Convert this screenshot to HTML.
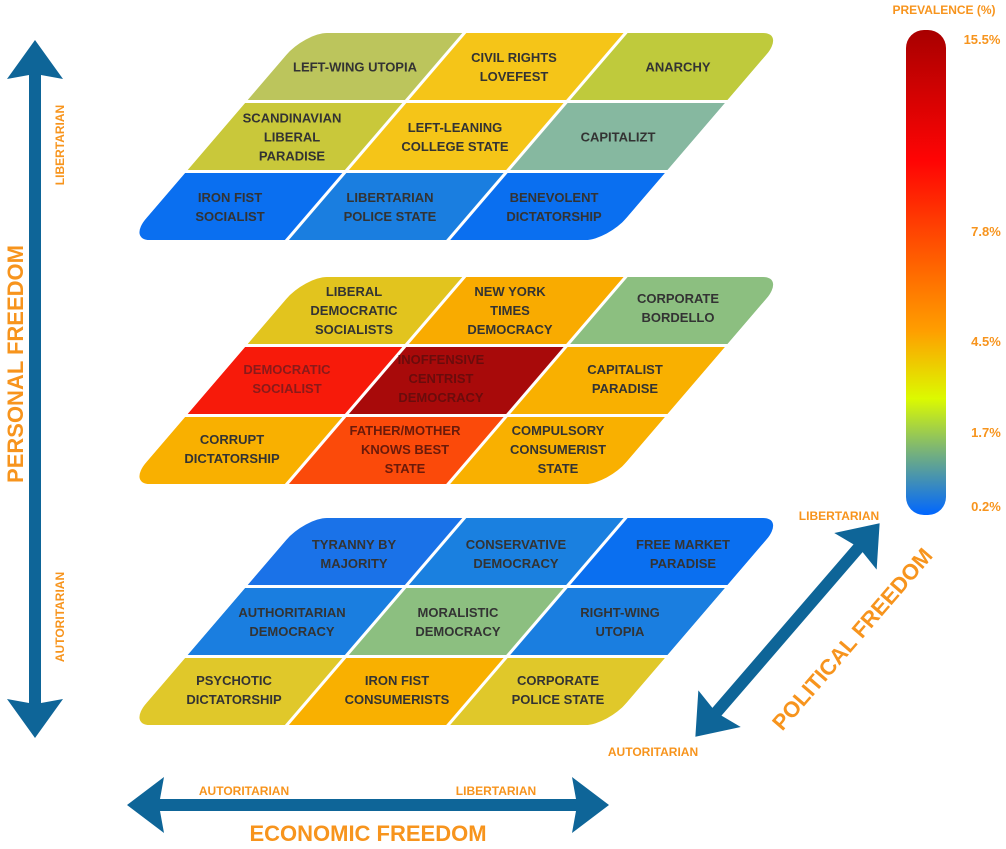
<!DOCTYPE html>
<html><head><meta charset="utf-8"><style>
html,body{margin:0;padding:0;background:#fff;}
svg{display:block;font-family:"Liberation Sans",sans-serif;font-weight:bold;}
.t{font-size:13px;fill:#333;text-anchor:middle;}
.o{fill:#f7941d;text-anchor:middle;}
</style></head><body>
<svg width="1006" height="849" viewBox="0 0 1006 849" xmlns="http://www.w3.org/2000/svg">
<defs>
<linearGradient id="cb" x1="0" y1="0" x2="0" y2="1">
<stop offset="0" stop-color="#a80000"/>
<stop offset="0.27" stop-color="#ff0404"/>
<stop offset="0.5" stop-color="#ff6a00"/>
<stop offset="0.62" stop-color="#ff9e00"/>
<stop offset="0.76" stop-color="#dcfa00"/>
<stop offset="0.86" stop-color="#80b870"/>
<stop offset="1" stop-color="#0066ff"/>
</linearGradient>
<clipPath id="cl"><rect x="0" y="0" width="480" height="207" rx="22"/></clipPath>
</defs>

<!-- Layer 1 -->
<g transform="translate(305,33) skewX(-40.6)" clip-path="url(#cl)">
<rect x="0" y="0" width="157.3" height="67" fill="#bcc55c"/>
<rect x="161.3" y="0" width="157.3" height="67" fill="#f5c518"/>
<rect x="322.6" y="0" width="157.4" height="67" fill="#bfca3c"/>
<rect x="0" y="70" width="157.3" height="67" fill="#c9c83a"/>
<rect x="161.3" y="70" width="157.3" height="67" fill="#f5c518"/>
<rect x="322.6" y="70" width="157.4" height="67" fill="#86b8a0"/>
<rect x="0" y="140" width="157.3" height="67" fill="#0a6ff0"/>
<rect x="161.3" y="140" width="157.3" height="67" fill="#1a7ee0"/>
<rect x="322.6" y="140" width="157.4" height="67" fill="#0a6ff0"/>
</g>
<text class="t" x="355" y="71.5">LEFT-WING UTOPIA</text>
<text class="t" x="514" y="62">CIVIL RIGHTS</text><text class="t" x="514" y="81">LOVEFEST</text>
<text class="t" x="678" y="71.5">ANARCHY</text>
<text class="t" x="292" y="122.5">SCANDINAVIAN</text><text class="t" x="292" y="141.5">LIBERAL</text><text class="t" x="292" y="160.5">PARADISE</text>
<text class="t" x="455" y="132">LEFT-LEANING</text><text class="t" x="455" y="151">COLLEGE STATE</text>
<text class="t" x="618" y="141.5">CAPITALIZT</text>
<text class="t" x="230" y="202">IRON FIST</text><text class="t" x="230" y="221">SOCIALIST</text>
<text class="t" x="390" y="202">LIBERTARIAN</text><text class="t" x="390" y="221">POLICE STATE</text>
<text class="t" x="554" y="202">BENEVOLENT</text><text class="t" x="554" y="221">DICTATORSHIP</text>

<!-- Layer 2 -->
<g transform="translate(305,277) skewX(-40.6)" clip-path="url(#cl)">
<rect x="0" y="0" width="157.3" height="67" fill="#e2c41e"/>
<rect x="161.3" y="0" width="157.3" height="67" fill="#f9ab00"/>
<rect x="322.6" y="0" width="157.4" height="67" fill="#8cbf80"/>
<rect x="0" y="70" width="157.3" height="67" fill="#f71a0a"/>
<rect x="161.3" y="70" width="157.3" height="67" fill="#a80a0a"/>
<rect x="322.6" y="70" width="157.4" height="67" fill="#f9b000"/>
<rect x="0" y="140" width="157.3" height="67" fill="#f9b000"/>
<rect x="161.3" y="140" width="157.3" height="67" fill="#fb4a0a"/>
<rect x="322.6" y="140" width="157.4" height="67" fill="#f9b000"/>
</g>
<text class="t" x="354" y="296">LIBERAL</text><text class="t" x="354" y="315">DEMOCRATIC</text><text class="t" x="354" y="334">SOCIALISTS</text>
<text class="t" x="510" y="296">NEW YORK</text><text class="t" x="510" y="315">TIMES</text><text class="t" x="510" y="334">DEMOCRACY</text>
<text class="t" x="678" y="303">CORPORATE</text><text class="t" x="678" y="322">BORDELLO</text>
<text class="t" x="287" y="374" style="fill:#8a1a1a">DEMOCRATIC</text><text class="t" x="287" y="393" style="fill:#8a1a1a">SOCIALIST</text>
<text class="t" x="441" y="364" style="fill:#6a0c0c">INOFFENSIVE</text><text class="t" x="441" y="383" style="fill:#6a0c0c">CENTRIST</text><text class="t" x="441" y="402" style="fill:#6a0c0c">DEMOCRACY</text>
<text class="t" x="625" y="374">CAPITALIST</text><text class="t" x="625" y="393">PARADISE</text>
<text class="t" x="232" y="444">CORRUPT</text><text class="t" x="232" y="463">DICTATORSHIP</text>
<text class="t" x="405" y="435" style="fill:#6a1a0a">FATHER/MOTHER</text><text class="t" x="405" y="454" style="fill:#6a1a0a">KNOWS BEST</text><text class="t" x="405" y="473" style="fill:#6a1a0a">STATE</text>
<text class="t" x="558" y="435">COMPULSORY</text><text class="t" x="558" y="454">CONSUMERIST</text><text class="t" x="558" y="473">STATE</text>

<!-- Layer 3 -->
<g transform="translate(305,518) skewX(-40.6)" clip-path="url(#cl)">
<rect x="0" y="0" width="157.3" height="67" fill="#1a72e8"/>
<rect x="161.3" y="0" width="157.3" height="67" fill="#1a80e0"/>
<rect x="322.6" y="0" width="157.4" height="67" fill="#0a6ff0"/>
<rect x="0" y="70" width="157.3" height="67" fill="#1a7ee0"/>
<rect x="161.3" y="70" width="157.3" height="67" fill="#8cbf80"/>
<rect x="322.6" y="70" width="157.4" height="67" fill="#1a7ee0"/>
<rect x="0" y="140" width="157.3" height="67" fill="#e0c82a"/>
<rect x="161.3" y="140" width="157.3" height="67" fill="#f9b000"/>
<rect x="322.6" y="140" width="157.4" height="67" fill="#e0c82a"/>
</g>
<text class="t" x="354" y="549">TYRANNY BY</text><text class="t" x="354" y="568">MAJORITY</text>
<text class="t" x="516" y="549">CONSERVATIVE</text><text class="t" x="516" y="568">DEMOCRACY</text>
<text class="t" x="683" y="549">FREE MARKET</text><text class="t" x="683" y="568">PARADISE</text>
<text class="t" x="292" y="617">AUTHORITARIAN</text><text class="t" x="292" y="636">DEMOCRACY</text>
<text class="t" x="458" y="617">MORALISTIC</text><text class="t" x="458" y="636">DEMOCRACY</text>
<text class="t" x="620" y="617">RIGHT-WING</text><text class="t" x="620" y="636">UTOPIA</text>
<text class="t" x="234" y="685">PSYCHOTIC</text><text class="t" x="234" y="704">DICTATORSHIP</text>
<text class="t" x="397" y="685">IRON FIST</text><text class="t" x="397" y="704">CONSUMERISTS</text>
<text class="t" x="558" y="685">CORPORATE</text><text class="t" x="558" y="704">POLICE STATE</text>

<!-- Arrows -->
<g fill="#0e6598">
<g transform="translate(35,389) rotate(90)">
<polygon points="-349,0 -310,-28 -314,-6 314,-6 310,-28 349,0 310,28 314,6 -314,6 -310,28"/>
</g>
<g transform="translate(368,805)">
<polygon points="-241,0 -204,-28 -208,-6 208,-6 204,-28 241,0 204,28 208,6 -208,6 -204,28"/>
</g>
<g transform="translate(787.5,630) rotate(-49.2)">
<polygon points="-141,0 -104,-28 -108,-6 108,-6 104,-28 141,0 104,28 108,6 -108,6 -104,28"/>
</g>
</g>

<!-- Axis labels -->
<text class="o" transform="translate(23,364) rotate(-90)" font-size="22">PERSONAL FREEDOM</text>
<text class="o" transform="translate(64,145) rotate(-90)" font-size="12">LIBERTARIAN</text>
<text class="o" transform="translate(64,617) rotate(-90)" font-size="12">AUTORITARIAN</text>
<text class="o" x="368" y="841" font-size="22">ECONOMIC FREEDOM</text>
<text class="o" x="244" y="795" font-size="12">AUTORITARIAN</text>
<text class="o" x="496" y="795" font-size="12">LIBERTARIAN</text>
<text class="o" transform="translate(858,644) rotate(-49.2)" font-size="22">POLITICAL FREEDOM</text>
<text class="o" x="839" y="520" font-size="12">LIBERTARIAN</text>
<text class="o" x="653" y="756" font-size="12">AUTORITARIAN</text>

<!-- Color bar -->
<rect x="906" y="30" width="40" height="485" rx="18" fill="url(#cb)"/>
<text class="o" x="944" y="14" font-size="12">PREVALENCE (%)</text>
<text class="o" x="982" y="44" font-size="13">15.5%</text>
<text class="o" x="986" y="236" font-size="13">7.8%</text>
<text class="o" x="986" y="346" font-size="13">4.5%</text>
<text class="o" x="986" y="437" font-size="13">1.7%</text>
<text class="o" x="986" y="511" font-size="13">0.2%</text>
</svg>
</body></html>
